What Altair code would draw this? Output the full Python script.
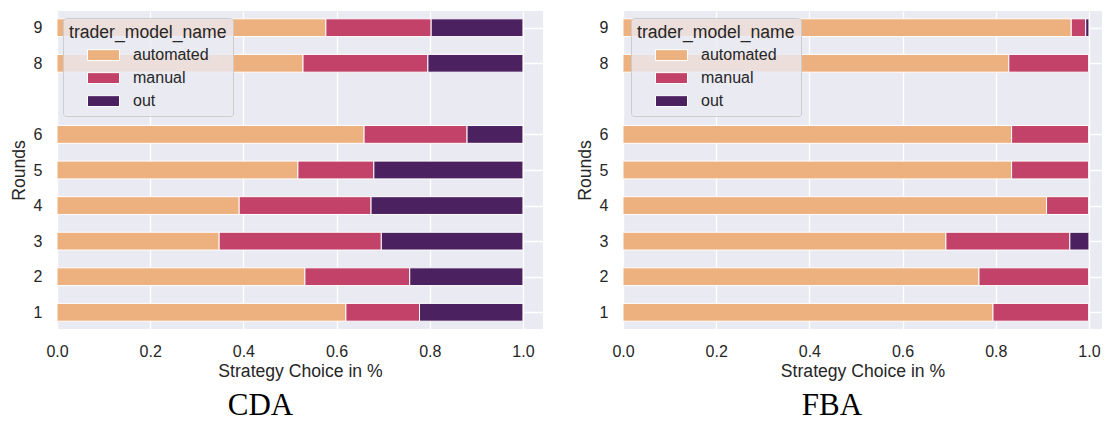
import altair as alt
import pandas as pd

rounds = [1, 2, 3, 4, 5, 6, 8, 9]
categories = ["automated", "manual", "out"]
colors = ["#EDB07F", "#C24269", "#4C2160"]

cda_automated = [0.620, 0.532, 0.348, 0.391, 0.517, 0.659, 0.528, 0.577]
cda_manual = [0.158, 0.225, 0.348, 0.283, 0.163, 0.221, 0.268, 0.226]
cda_out = [0.222, 0.243, 0.304, 0.326, 0.320, 0.120, 0.204, 0.197]

fba_automated = [0.794, 0.764, 0.693, 0.909, 0.834, 0.834, 0.828, 0.962]
fba_manual = [0.206, 0.236, 0.266, 0.091, 0.166, 0.166, 0.172, 0.031]
fba_out = [0.000, 0.000, 0.041, 0.000, 0.000, 0.000, 0.000, 0.007]

x_ticks = [0.0, 0.2, 0.4, 0.6, 0.8, 1.0]

FONT = "Liberation Sans"
TXT = "#262626"


def build_table(auto, man, out):
    rows = []
    for i, r in enumerate(rounds):
        start = 0.0
        for cat, vals in zip(categories, [auto, man, out]):
            v = vals[i]
            rows.append({"round": r, "trader_model_name": cat,
                         "start": start, "end": start + v})
            start += v
    return pd.DataFrame(rows)


legend_path = "M-2,-0.68L2,-0.68L2,0.68L-2,0.68Z"


def panel(auto, man, out, label, legend_x, title_dx, width, xmax):
    df = build_table(auto, man, out)
    return (
        alt.Chart(df)
        .transform_calculate(y0="datum.round - 0.25", y1="datum.round + 0.25")
        .mark_bar(stroke="white", strokeWidth=1)
        .encode(
            x=alt.X("start:Q",
                    scale=alt.Scale(domain=[0, xmax], nice=False, zero=False),
                    axis=alt.Axis(values=x_ticks, format=".1f", labelFlush=False,
                                  title="Strategy Choice in %")),
            x2="end:Q",
            y=alt.Y("y0:Q",
                    scale=alt.Scale(domain=[0.53, 9.47], nice=False, zero=False),
                    axis=alt.Axis(values=rounds, format="d", title="Rounds",
                                  labelFlush=False,
                                  minExtent=25, maxExtent=25, titlePadding=4)),
            y2="y1:Q",
            color=alt.Color(
                "trader_model_name:N",
                scale=alt.Scale(domain=categories, range=colors),
                legend=alt.Legend(orient="none", legendX=legend_x, legendY=7,
                                  title="trader_model_name"),
            ),
        )
        .properties(
            width=width,
            height=318,
            title=alt.TitleParams(label, orient="bottom", font="Liberation Serif",
                                  fontSize=31, fontWeight="normal", color="black",
                                  anchor="middle", dx=title_dx, offset=11),
        )
    )


left = panel(cda_automated, cda_manual, cda_out, "CDA", 6, -39.5, 486, 1.043)
right = panel(fba_automated, fba_manual, fba_out, "FBA", 8, -30.5, 479, 1.028)

chart = (
    alt.hconcat(left, right, spacing=33)
    .resolve_scale(color="independent")
    .resolve_legend(color="independent")
    .properties(padding={"left": 2, "top": 3, "right": 0, "bottom": 0})
    .configure_view(fill="#EAEAF2", stroke=None)
    .configure_axis(
        grid=True, gridColor="white", gridWidth=1.3, domain=False, ticks=False,
        tickSize=0, labelFont=FONT, labelFontSize=16, labelColor=TXT,
        titleFont=FONT, titleFontSize=17.6, titleFontWeight="normal", titleColor=TXT,
    )
    .configure_axisX(labelPadding=14, titlePadding=3)
    .configure_axisY(labelPadding=15)
    .configure_legend(
        fillColor="rgba(234,234,242,0.8)", strokeColor="#CCCCCC", cornerRadius=3,
        padding=6, titleFont=FONT, titleFontSize=17.6, titleFontWeight="normal",
        titleColor=TXT, titlePadding=5, labelFont=FONT, labelFontSize=16,
        labelColor=TXT, symbolType=legend_path, symbolSize=256,
        symbolStrokeColor="white", symbolStrokeWidth=1, symbolOpacity=1,
        symbolOffset=26, labelOffset=21, rowPadding=6,
    )
)

chart.save("out.html", embed_options={"renderer": "svg", "actions": False})
